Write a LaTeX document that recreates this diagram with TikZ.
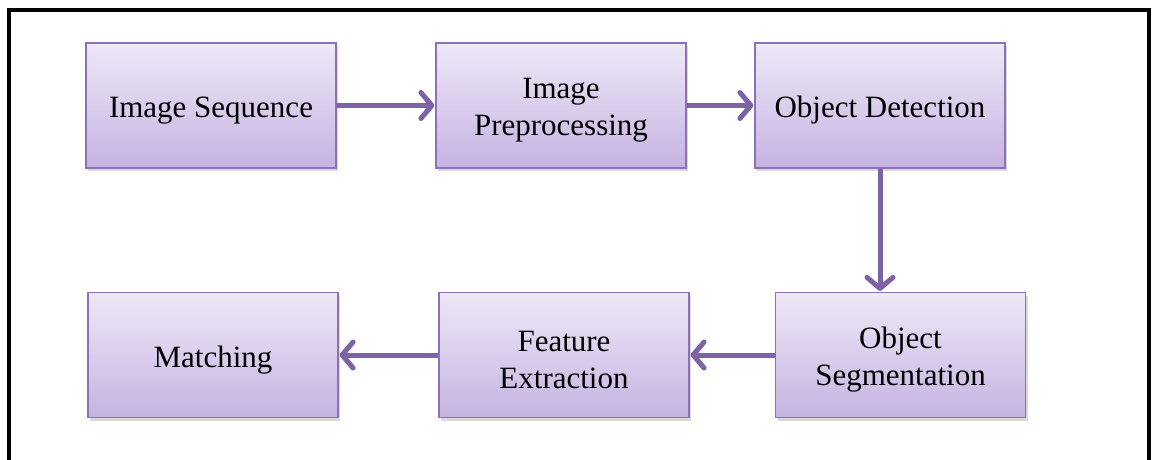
\documentclass[tikz,border=0pt]{standalone}
\usepackage{fontspec}
\setmainfont{Liberation Serif}
\usetikzlibrary{arrows.meta,shadows}
\definecolor{boxtop}{HTML}{EEE8F7}
\definecolor{boxbot}{HTML}{C6B3E2}
\definecolor{boxline}{HTML}{8C70B8}
\definecolor{arrowc}{HTML}{7E62A6}
\tikzset{
  stepbox/.style={draw=boxline, line width=1.2pt, top color=boxtop, bottom color=boxbot,
    minimum width=250pt, minimum height=125pt, inner sep=0pt,
    drop shadow={shadow xshift=2pt, shadow yshift=-3pt, opacity=0.25, fill=black!60}},
  steptext/.style={align=center, inner sep=0pt, font=\fontsize{31}{37}\selectfont},
  flow/.style={draw=arrowc, line width=5pt,
    -{Straight Barb[length=11pt, width=26pt, line width=5pt, round]}, shorten >=1pt},
}
\begin{document}
\begin{tikzpicture}[x=1pt,y=-1pt]
\useasboundingbox (0,0) rectangle (1154,460);
% frame
\draw[line width=4pt] (9,460) -- (9,10) -- (1149,10) -- (1149,460);
% nodes
\node[stepbox] (seq) at (211,105.5) {};
\node[stepbox] (pre) at (561,105.5) {};
\node[stepbox] (det) at (880,105.5) {};
\node[stepbox] (seg) at (900.5,355) {};
\node[stepbox] (fea) at (564,355) {};
\node[stepbox] (mat) at (213,355) {};
\node[steptext] (seqt) at ([yshift=-5pt]seq.center) {Image Sequence};
\node[steptext] (pret) at ([yshift=-5pt]pre.center) {Image\\Preprocessing};
\node[steptext] (dett) at ([yshift=-5pt]det.center) {Object Detection};
\node[steptext] (segt) at ([yshift=-5pt]seg.center) {Object\\Segmentation};
\node[steptext] (feat) at ([yshift=-5pt]fea.center) {Feature\\Extraction};
\node[steptext] (matt) at ([yshift=-5pt]mat.center) {Matching};
% connectors
\draw[flow] (seq.east) -- (pre.west);
\draw[flow] (pre.east) -- (det.west);
\draw[flow] (det.south) -- (det.south |- seg.north);
\draw[flow] (seg.west) -- (fea.east);
\draw[flow] (fea.west) -- (mat.east);
\end{tikzpicture}
\end{document}
